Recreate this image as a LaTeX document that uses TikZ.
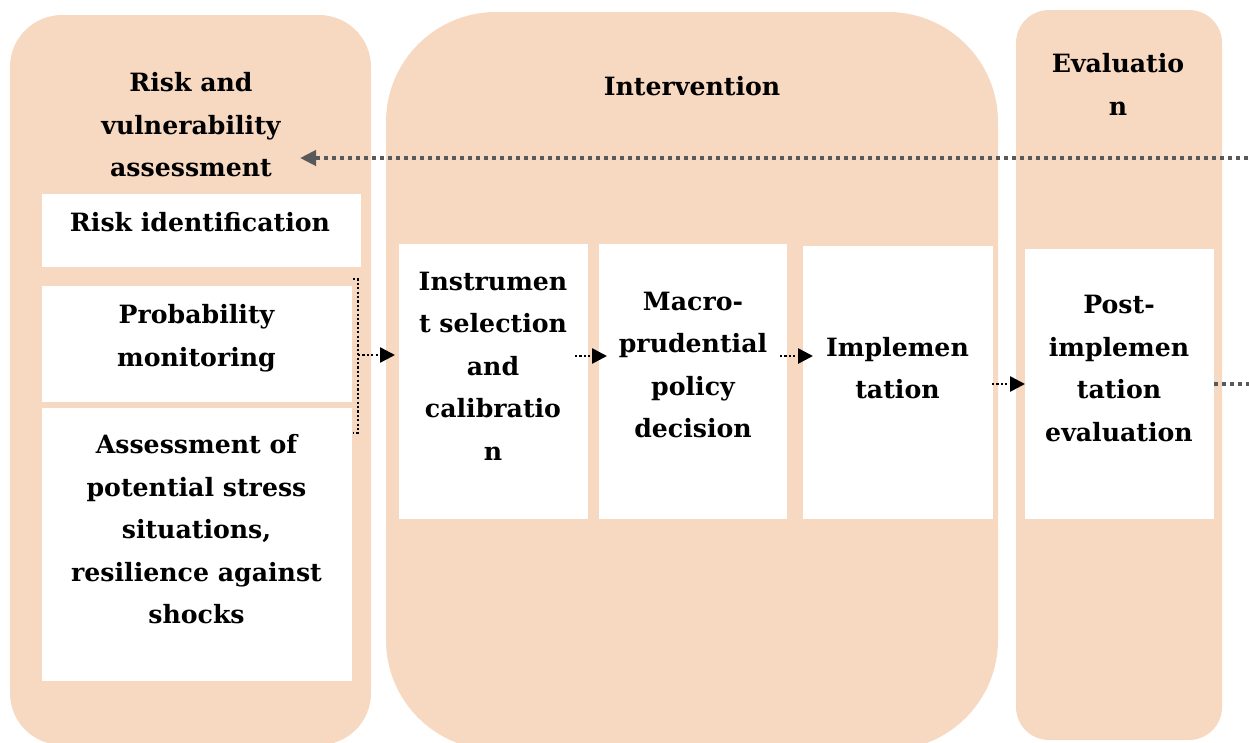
\documentclass[tikz,border=0pt]{standalone}
\usepackage{fontspec}
\setmainfont{DejaVu Serif}
\usetikzlibrary{arrows.meta,calc}
\definecolor{peach}{RGB}{247,216,193}
\definecolor{fbgray}{RGB}{89,89,89}
\begin{document}
\begin{tikzpicture}[x=1pt,y=-1pt,
  column/.style={fill=peach,draw=none},
  wbox/.style={fill=white,draw=none,inner sep=0pt,anchor=north west},
  txt/.style={font=\bfseries\fontsize{25.2}{42.5}\selectfont,align=center,inner sep=0pt,anchor=north},
  blkdot/.style={draw=black,line width=2.6pt,dash pattern=on 2.2pt off 2.2pt},
  blkarrow/.style={blkdot,-{Triangle[length=15pt,width=15pt]}},
  grayarrow/.style={draw=fbgray,line width=4pt,dash pattern=on 4pt off 4pt},
]
\useasboundingbox (0,0) rectangle (1249,742);
\clip (0,0) rectangle (1249,742);

% columns
\fill[column,rounded corners=52pt] (10,15) rectangle (371,745);
\fill[column,rounded corners=110pt] (386,12) rectangle (998,750);
\fill[column,rounded corners=33pt] (1016,10) rectangle (1222,740);

% white boxes
\node[wbox,minimum width=319pt,minimum height=72.5pt] (b-risk) at (42,194) {};
\node[wbox,minimum width=310pt,minimum height=116pt] (b-prob) at (42,286) {};
\node[wbox,minimum width=310pt,minimum height=273.5pt] (b-assess) at (42,407.5) {};
\node[wbox,minimum width=189pt,minimum height=275pt] (b-instr) at (399,244) {};
\node[wbox,minimum width=188pt,minimum height=275pt] (b-macro) at (599,244) {};
\node[wbox,minimum width=189.5pt,minimum height=273pt] (b-impl) at (803,246) {};
\node[wbox,minimum width=189pt,minimum height=270.5pt] (b-post) at (1025,248.5) {};

% texts (y = first baseline - 20)
\node[txt] (t-col1) at (191,71.5) {\rule{0pt}{20pt}Risk and\\vulnerability\\assessment};
\node[txt] (t-col2) at (692,75) {\rule{0pt}{20pt}Intervention};
\node[txt] (t-col3) at (1118,52.5) {\rule{0pt}{20pt}Evaluatio\\n};
\node[txt] (t-risk) at (200,211.5) {\rule{0pt}{20pt}Risk identification};
\node[txt] (t-prob) at (196.5,303.5) {\rule{0pt}{20pt}Probability\\monitoring};
\node[txt] (t-assess) at (196.5,433.5) {\rule{0pt}{20pt}Assessment of\\potential stress\\situations,\\resilience against\\shocks};
\node[txt] (t-instr) at (493,270) {\rule{0pt}{20pt}Instrumen\\t selection\\and\\calibratio\\n};
\node[txt] (t-macro) at (693,290) {\rule{0pt}{20pt}Macro-\\prudential\\policy\\decision};
\node[txt] (t-impl) at (897.5,336) {\rule{0pt}{20pt}Implemen\\tation};
\node[txt] (t-post) at (1119,293.5) {\rule{0pt}{20pt}Post-\\implemen\\tation\\evaluation};

% bracket and connectors
\coordinate (brTop) at (353,279);
\coordinate (brBot) at (353,433);
\coordinate (brMid) at (358,355);
\draw[blkdot] (brTop) -- (358,279) -- (358,433) -- (brBot);
\draw[blkarrow,shorten >=4pt] (brMid) -- (b-instr.west |- brMid);

\coordinate (a1) at (575,356);
\draw[blkarrow,shorten >=-8pt] (a1) -- (b-macro.west |- a1);
\coordinate (a2) at (780,356);
\draw[blkarrow,shorten >=-10pt] (a2) -- (b-impl.west |- a2);
\coordinate (a3) at (992,384);
\draw[blkarrow] (a3) -- (b-post.west |- a3);

\coordinate (outR) at (1256,384);
\draw[grayarrow] (b-post.east |- outR) -- (outR);
\coordinate (fbStart) at (1256,158);
\coordinate (fbEnd) at (300,158);
\draw[grayarrow,-{Triangle[length=16pt,width=15pt]}] (fbStart) -- (fbEnd);
\end{tikzpicture}
\end{document}
